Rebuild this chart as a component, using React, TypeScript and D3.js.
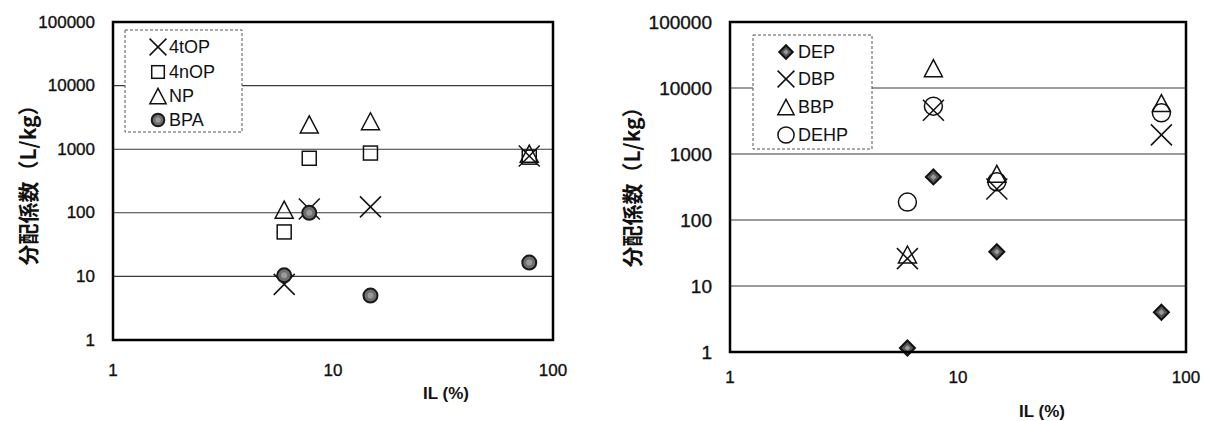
import React from 'react';
import * as d3 from 'd3';

// ---------- data ----------
const IL = [6.0, 7.8, 14.8, 78];

const LEFT_NAMES = ['4tOP', '4nOP', 'NP', 'BPA'];
const V_4tOP = [7.5, 115, 124, 780];
const V_4nOP = [50, 720, 870, 750];
const V_NP = [112, 2450, 2750, 850];
const V_BPA = [10.4, 100, 5.0, 16.5];

const RIGHT_NAMES = ['DEP', 'DBP', 'BBP', 'DEHP'];
const V_DEP = [1.15, 450, 33, 4.0];
const V_DBP = [26, 4600, 295, 1950];
const V_BBP = [30, 20000, 500, 5900];
const V_DEHP = [187, 5300, 380, 4200];

const Y_TICKS = [1, 10, 100, 1000, 10000, 100000];
const Y_TICK_LABELS = ['1', '10', '100', '1000', '10000', '100000'];
const X_TICKS = [1, 10, 100];
const X_TICK_LABELS = ['1', '10', '100'];

const Y_TITLE = '分配係数（L/kg）';
const X_TITLE = 'IL (%)';

type Shape = 'cross' | 'square' | 'triangle' | 'dot' | 'circle' | 'diamond';

function Marker({ shape, x, y, k = 1 }: { shape: Shape; x: number; y: number; k?: number }) {
  const sw = 1.5;
  if (shape === 'cross') {
    const h = 10.5 * k;
    return (
      <g stroke="#111" strokeWidth={sw} fill="none">
        <line x1={x - h} y1={y - h} x2={x + h} y2={y + h} />
        <line x1={x - h} y1={y + h} x2={x + h} y2={y - h} />
      </g>
    );
  }
  if (shape === 'square') {
    const h = 7 * k;
    return <rect x={x - h} y={y - h} width={2 * h} height={2 * h} fill="none" stroke="#111" strokeWidth={sw} />;
  }
  if (shape === 'triangle') {
    const w = 9 * k;
    const hh = 8.5 * k;
    return (
      <path
        d={`M${x},${y - hh}L${x + w},${y + hh}L${x - w},${y + hh}Z`}
        fill="none"
        stroke="#111"
        strokeWidth={sw}
      />
    );
  }
  if (shape === 'dot') {
    return (
      <g>
        <circle cx={x} cy={y} r={7 * k} fill="#6e6e6e" stroke="#1a1a1a" strokeWidth={2} />
        <circle cx={x} cy={y} r={3 * k} fill="#9a9a9a" />
      </g>
    );
  }
  if (shape === 'circle') {
    return <circle cx={x} cy={y} r={9 * k} fill="none" stroke="#111" strokeWidth={sw} />;
  }
  const h = 7.5 * k;
  return (
    <g>
      <path d={`M${x},${y - h}L${x + h},${y}L${x},${y + h}L${x - h},${y}Z`} fill="#555" stroke="#111" strokeWidth={2} />
      <path
        d={`M${x},${y - h * 0.4}L${x + h * 0.4},${y}L${x},${y + h * 0.4}L${x - h * 0.4},${y}Z`}
        fill="#999"
      />
    </g>
  );
}

type Series = { name: string; shape: Shape; values: number[] };

type PanelProps = {
  x0: number;
  x1: number;
  y0: number;
  y1: number;
  series: Series[];
  legend: { x: number; y: number; w: number; h: number; mx: number; tx: number; rows: number[] };
  yTickSize: number;
  xLabelY: number;
  xTitle: { x: number; y: number };
  yTitle: { x: number; y: number };
};

function Panel(p: PanelProps) {
  const xs = d3.scaleLog().domain([1, 100]).range([p.x0, p.x1]);
  const ys = d3.scaleLog().domain([1, 100000]).range([p.y1, p.y0]);
  const sans = '"Liberation Sans", Arial, sans-serif';
  return (
    <g>
      {/* gridlines */}
      {Y_TICKS.slice(1, -1).map((t) => (
        <line key={t} x1={p.x0} x2={p.x1} y1={ys(t)} y2={ys(t)} stroke="#3a3a3a" strokeWidth={1.1} />
      ))}
      {/* legend box */}
      <rect
        x={p.legend.x}
        y={p.legend.y}
        width={p.legend.w}
        height={p.legend.h}
        fill="#fff"
        stroke="#555"
        strokeWidth={1}
        strokeDasharray="3,2"
      />
      {p.series.map((s, i) => (
        <g key={s.name}>
          <Marker shape={s.shape} x={p.legend.mx} y={p.legend.rows[i]} k={s.shape === 'cross' ? 0.8 : 0.9} />
          <text
            x={p.legend.tx}
            y={p.legend.rows[i]}
            dominantBaseline="central"
            fontFamily={sans}
            fontSize={18}
            fill="#111"
          >
            {s.name}
          </text>
        </g>
      ))}
      {/* data */}
      {p.series.map((s) => (
        <g key={s.name}>
          {s.values.map((v, j) => (
            <Marker key={j} shape={s.shape} x={xs(IL[j])} y={ys(v)} />
          ))}
        </g>
      ))}
      {/* frame */}
      <rect x={p.x0} y={p.y0} width={p.x1 - p.x0} height={p.y1 - p.y0} fill="none" stroke="#000" strokeWidth={2.5} />
      {/* y ticks */}
      {Y_TICKS.map((t, i) => (
        <text
          key={t}
          x={p.x0 - 18}
          y={ys(t)}
          textAnchor="end"
          dominantBaseline="central"
          fontFamily={sans}
          fontSize={p.yTickSize}
          fill="#111"
          stroke="#111"
          strokeWidth={0.35}
        >
          {Y_TICK_LABELS[i]}
        </text>
      ))}
      {/* x ticks */}
      {X_TICKS.map((t, i) => (
        <text
          key={t}
          x={xs(t)}
          y={p.xLabelY}
          textAnchor="middle"
          dominantBaseline="central"
          fontFamily={sans}
          fontSize={17}
          fill="#111"
          stroke="#111"
          strokeWidth={0.35}
        >
          {X_TICK_LABELS[i]}
        </text>
      ))}
      <text
        x={p.xTitle.x}
        y={p.xTitle.y}
        textAnchor="middle"
        dominantBaseline="central"
        fontFamily={sans}
        fontSize={17}
        fontWeight="bold"
        fill="#111"
      >
        {X_TITLE}
      </text>
      <text
        transform={`translate(${p.yTitle.x},${p.yTitle.y}) rotate(-90)`}
        textAnchor="middle"
        dominantBaseline="central"
        fontFamily='"Noto Sans CJK JP", sans-serif'
        fontSize={21}
        fontWeight="bold"
        fill="#111"
      >
        {Y_TITLE}
      </text>
    </g>
  );
}

export default function App() {
  const leftSeries: Series[] = [
    { name: LEFT_NAMES[0], shape: 'cross', values: V_4tOP },
    { name: LEFT_NAMES[1], shape: 'square', values: V_4nOP },
    { name: LEFT_NAMES[2], shape: 'triangle', values: V_NP },
    { name: LEFT_NAMES[3], shape: 'dot', values: V_BPA },
  ];
  const rightSeries: Series[] = [
    { name: RIGHT_NAMES[0], shape: 'diamond', values: V_DEP },
    { name: RIGHT_NAMES[1], shape: 'cross', values: V_DBP },
    { name: RIGHT_NAMES[2], shape: 'triangle', values: V_BBP },
    { name: RIGHT_NAMES[3], shape: 'circle', values: V_DEHP },
  ];
  return (
    <svg
      width={1205}
      height={421}
      viewBox="0 0 1205 421"
      style={{ position: 'absolute', left: 0, top: 0, background: '#fff' }}
    >
      <rect width={1205} height={421} fill="#fff" />
      <Panel
        x0={113}
        x1={553}
        y0={22}
        y1={340}
        series={leftSeries}
        legend={{ x: 125, y: 30, w: 117, h: 102, mx: 158, tx: 169, rows: [47, 72, 96, 120] }}
        yTickSize={17}
        xLabelY={370}
        xTitle={{ x: 446, y: 393 }}
        yTitle={{ x: 27, y: 180 }}
      />
      <Panel
        x0={730}
        x1={1186}
        y0={22}
        y1={352}
        series={rightSeries}
        legend={{ x: 753, y: 35, w: 119, h: 114, mx: 786, tx: 798, rows: [52, 79, 107, 135] }}
        yTickSize={19}
        xLabelY={377}
        xTitle={{ x: 1042, y: 411 }}
        yTitle={{ x: 631, y: 182 }}
      />
    </svg>
  );
}
